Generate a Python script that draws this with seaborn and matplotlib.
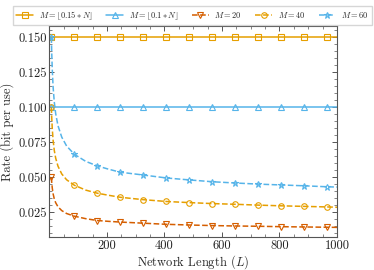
import matplotlib
matplotlib.use("Agg")
import matplotlib.pyplot as plt
import seaborn as sns
import pandas as pd
from matplotlib.ticker import MultipleLocator

# ---- data ----
L_flat = [7, 87, 167, 247, 327, 407, 487, 567, 647, 727, 807, 887, 967, 1000]
rate_015N = [0.15, 0.15, 0.15, 0.15, 0.15, 0.15, 0.15, 0.15, 0.15, 0.15, 0.15, 0.15, 0.15, 0.15]
rate_01N = [0.10, 0.10, 0.10, 0.10, 0.10, 0.10, 0.10, 0.10, 0.10, 0.10, 0.10, 0.10, 0.10, 0.10]

L = [7, 8, 10, 13, 17, 22, 30, 43, 60, 87, 127, 167, 207, 247, 327, 407,
     487, 567, 647, 727, 807, 887, 967, 1000]
rate_M20 = [0.050, 0.0469, 0.0424, 0.0382, 0.0346, 0.0318, 0.0289, 0.0262,
            0.0241, 0.0222, 0.0204, 0.0191, 0.0185, 0.0180, 0.0172, 0.0164,
            0.0159, 0.0155, 0.0152, 0.0150, 0.0147, 0.0145, 0.0143, 0.0142]
rate_M40 = [0.100, 0.0937, 0.0849, 0.0764, 0.0693, 0.0636, 0.0579, 0.0524,
            0.0482, 0.0443, 0.0408, 0.0386, 0.0371, 0.0357, 0.0340, 0.0327,
            0.0319, 0.0312, 0.0307, 0.0301, 0.0296, 0.0292, 0.0288, 0.0286]
rate_M60 = [0.150, 0.1406, 0.1273, 0.1145, 0.1039, 0.0954, 0.0868, 0.0787,
            0.0723, 0.0664, 0.0613, 0.0581, 0.0557, 0.0536, 0.0516, 0.0495,
            0.0481, 0.0468, 0.0459, 0.0451, 0.0445, 0.0439, 0.0432, 0.0430]

labels = [r"$M=\lfloor 0.15 * N\rfloor$", r"$M=\lfloor 0.1 * N\rfloor$",
          r"$M=20$", r"$M=40$", r"$M=60$"]
ORANGE = "#E69F00"
BLUE = "#56B4E9"
VERM = "#D55E00"

sns.set_style("ticks")
plt.rcParams.update({
    "font.family": ["serif"],
    "font.serif": ["cmr10", "DejaVu Serif"],
    "mathtext.fontset": "cm",
    "axes.formatter.use_mathtext": True,
    "axes.unicode_minus": False,
    "xtick.direction": "in",
    "ytick.direction": "in",
    "xtick.top": True,
    "ytick.right": True,
    "axes.edgecolor": "#555555",
    "axes.linewidth": 0.8,
})

fig = plt.figure(figsize=(3.74, 2.70), dpi=100)
ax = fig.add_axes([0.132, 0.121, 0.769, 0.784])

curve_marks = [0, 9, 11, 13, 14, 15, 16, 17, 18, 19, 20, 21, 22]
flat_marks = list(range(13))

specs = [
    (L_flat, rate_015N, ORANGE, "s", "-", flat_marks),
    (L_flat, rate_01N, BLUE, "^", "-", flat_marks),
    (L, rate_M20, VERM, "v", "--", curve_marks),
    (L, rate_M40, ORANGE, "o", "--", curve_marks),
    (L, rate_M60, BLUE, "*", "--", curve_marks),
]
for (xs, ys, col, mk, ls, me), lab in zip(specs, labels):
    df = pd.DataFrame({"L": xs, "rate": ys})
    sns.lineplot(data=df, x="L", y="rate", ax=ax, color=col, marker=mk,
                 linestyle=ls, markevery=me, markersize=4 if mk != "*" else 5,
                 markerfacecolor="none", markeredgecolor=col,
                 markeredgewidth=0.8, linewidth=1.1, label=lab)

ax.set_xlim(0, 1000)
ax.set_ylim(0.0071, 0.1583)
ax.xaxis.set_major_locator(MultipleLocator(200))
ax.xaxis.set_minor_locator(MultipleLocator(50))
ax.yaxis.set_major_locator(MultipleLocator(0.025))
ax.yaxis.set_minor_locator(MultipleLocator(0.005))
ax.tick_params(which="major", length=3.5, width=0.7, labelsize=9, pad=2,
               colors="#555555", labelcolor="#222222")
ax.tick_params(which="minor", length=2, width=0.5, colors="#555555",
               top=True, right=True, direction="in")
ax.set_xticks([200, 400, 600, 800, 1000])
ax.set_xticklabels(["200", "400", "600", "800", "1000"])
ax.set_yticks([0.025, 0.05, 0.075, 0.1, 0.125, 0.15])
ax.set_yticklabels(["0.025", "0.050", "0.075", "0.100", "0.125", "0.150"])
ax.set_xlabel(r"Network Length ($L$)", fontsize=9, labelpad=1)
ax.set_ylabel("Rate (bit per use)", fontsize=9, labelpad=3)

handles, labs = ax.get_legend_handles_labels()
ax.get_legend().remove()
fig.legend(handles, labs, loc="upper center", bbox_to_anchor=(0.515, 0.995),
           ncol=5, fontsize=6, frameon=True, fancybox=False,
           edgecolor="#cccccc", handlelength=2.0, columnspacing=1.6,
           handletextpad=0.7, borderpad=0.4)

fig.savefig("out.png", dpi=100)
